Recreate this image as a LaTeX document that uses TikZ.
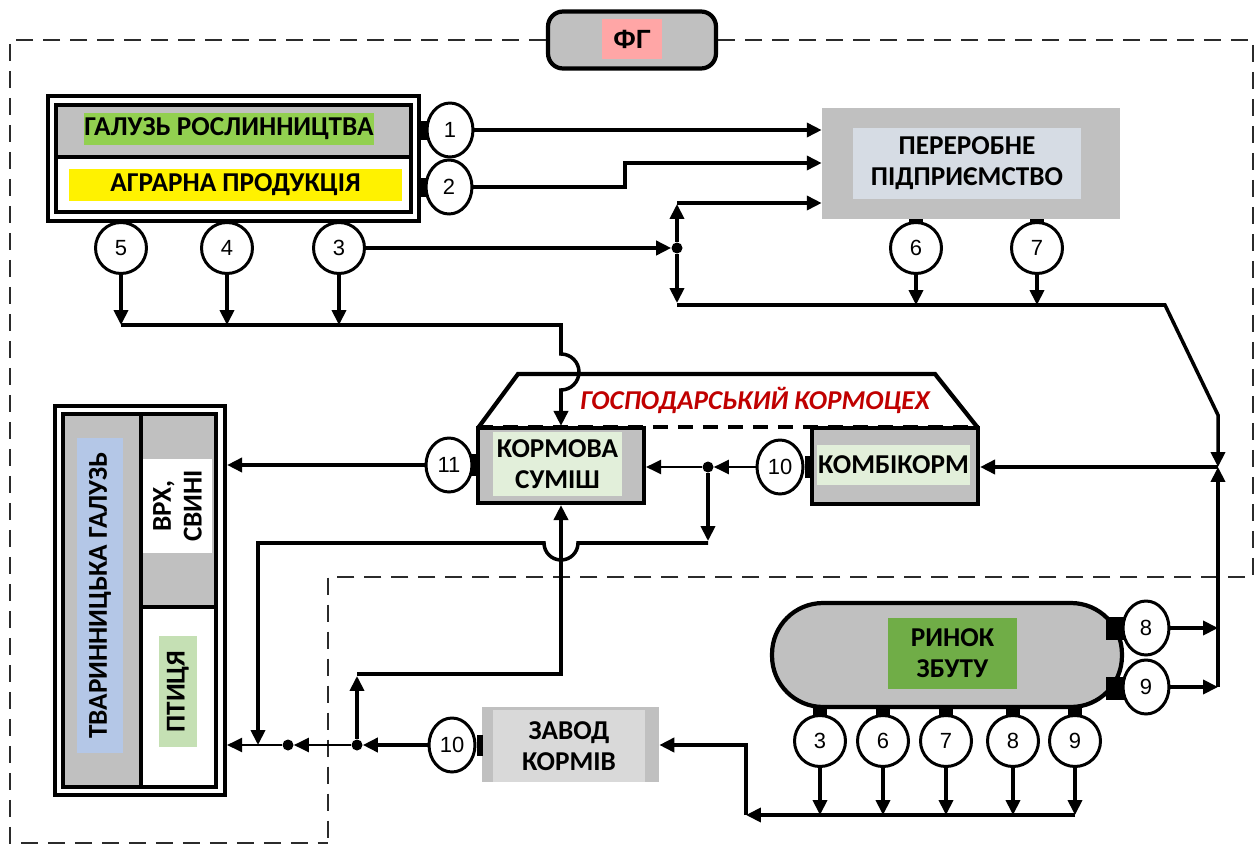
\documentclass[tikz,border=0pt]{standalone}
\usepackage{fontspec}
\setmainfont{Carlito}
\newfontfamily\numfont{Liberation Sans}
\usetikzlibrary{shapes.geometric, arrows.meta, positioning, calc}
\definecolor{boxgray}{HTML}{C0C0C0}
\definecolor{rosgreen}{HTML}{92D050}
\definecolor{fgpink}{HTML}{FFA6A6}
\definecolor{perblue}{HTML}{D6DCE4}
\definecolor{mixgreen}{HTML}{E2EFDA}
\definecolor{tvarblue}{HTML}{B4C7E7}
\definecolor{ptgreen}{HTML}{C5E0B4}
\definecolor{rinokgreen}{HTML}{70AD47}
\definecolor{zavgray}{HTML}{D9D9D9}
\definecolor{tsehred}{HTML}{C00000}
\definecolor{framegray}{HTML}{2B2B2B}

\tikzset{
  lbl/.style={inner sep=0pt, align=center, font=\bfseries\fontsize{15.5}{17.6}\selectfont},
  num/.style={circle, draw, line width=1.7pt, fill=white, inner sep=0pt, minimum size=1.02cm, font=\numfont\fontsize{12.5}{12.5}\selectfont},
  snum/.style={num, ellipse, minimum width=0.92cm, minimum height=1.08cm},
  link/.style={line width=2pt, -{Triangle[length=8.5pt,width=8pt]}},
  thinlink/.style={line width=1.2pt, -{Triangle[length=8.5pt,width=8pt]}},
  jdot/.style={circle, fill=black, inner sep=0pt, minimum size=0.22cm},
  fgline/.style={line width=1.5pt, framegray, dash pattern=on 0.34cm off 0.2cm},
  boxline/.style={line width=2.4pt}
}

\begin{document}
\begin{tikzpicture}[x=0.02cm, y=-0.02cm]
\useasboundingbox (0,0) rectangle (1255,845);

% ФГ frame
\node[draw, boxline, fill=boxgray, rounded corners=0.3cm, minimum width=3.36cm, minimum height=1.14cm] (fg) at (632,40) {};
\node[fill=fgpink, minimum width=1.22cm, minimum height=0.8cm, inner sep=0pt, font=\numfont\bfseries\fontsize{15}{15}\selectfont] (fglbl) at (632,39) {ФГ};
\draw[fgline] (fg.west) -- (10,40) -- (10,843) -- (328,843);
\draw[fgline] (fg.east) -- (1253,40) -- (1253,577) -- (328,577) -- (328,845);

% crop branch
\node[draw, boxline, minimum width=7.42cm, minimum height=2.5cm] (roslyn) at (233.5,158.5) {};
\draw[boxline, fill=boxgray] (56,105) rectangle (411,157);
\draw[boxline] (56,157) rectangle (411,212);
\node[lbl, fill=rosgreen, minimum width=5.76cm, minimum height=0.64cm] (roslynlbl) at (229,129) {ГАЛУЗЬ РОСЛИННИЦТВА};
\node[lbl, fill=yellow, minimum width=6.66cm, minimum height=0.64cm] (agrolbl) at (235.5,185) {АГРАРНА ПРОДУКЦІЯ};
\fill (419,121) rectangle (429,140);
\fill (419,178) rectangle (429,197);
\node[snum] (p1) at (450,130) {1};
\node[snum] (p2) at (449,187) {2};
\fill (113,220) rectangle (129,228);
\fill (219,220) rectangle (235,228);
\fill (331,220) rectangle (347,228);
\node[num] (p5) at (121,248) {5};
\node[num] (p4) at (227,248) {4};
\node[num] (p3) at (339,248) {3};

% processing plant
\node[fill=boxgray, minimum width=5.96cm, minimum height=2.22cm] (pererob) at (971,163.5) {};
\node[lbl, fill=perblue, minimum width=4.56cm, minimum height=1.42cm] (pereroblbl) at (967,163.5) {ПЕРЕРОБНЕ\\ПІДПРИЄМСТВО};
\fill (909,219) rectangle (923,226);
\fill (1030,219) rectangle (1044,226);
\node[num] (p6) at (916,248) {6};
\node[num] (p7) at (1037,248) {7};

\draw[link] (p1) -- (pererob.west |- p1);
\draw[link] (p2) -- (625,187) -- (625,163) -- (pererob.west |- 0,163);

\node[jdot] (j0) at (677,248) {};
\coordinate (j4) at (1218,467);
\draw[link] (p3) -- (j0);
\draw[link] (j0) -- (677,204);
\draw[link] (677,203) -- (pererob.west |- 0,203);
\draw[link] (j0) -- (677,303);
\draw[link] (p6) -- (p6 |- 0,305);
\draw[link] (p7) -- (p7 |- 0,305);
\draw[link] (677,305) -- (1165,305) -- (1218,415) -- (j4);

% feed shop
\draw[boxline, fill=white] (478,428) -- (518,374) -- (935,374) -- (978,428);
\draw[boxline, dash pattern=on 0.3cm off 0.2cm] (478,427) -- (978,427);
\node[font=\bfseries\itshape\fontsize{15.5}{18}\selectfont, text=tsehred] (tseh) at (755,400) {ГОСПОДАРСЬКИЙ КОРМОЦЕХ};

\node[draw, boxline, fill=boxgray, minimum width=3.32cm, minimum height=1.5cm] (kormsum) at (561,465.5) {};
\node[lbl, fill=mixgreen, minimum width=2.58cm, minimum height=1.28cm] (kormsumlbl) at (557.5,464) {КОРМОВА\\СУМІШ};
\node[draw, boxline, fill=boxgray, minimum width=3.32cm, minimum height=1.52cm] (kombi) at (895,466) {};
\node[lbl, fill=mixgreen, minimum width=3.06cm, minimum height=0.8cm] (kombilbl) at (893.5,465) {КОМБІКОРМ};
\fill (805,456) rectangle (812,478);
\node[snum] (p10a) at (780,467) {10};
\fill (471,454) rectangle (478,476);
\node[snum] (p11) at (449,465) {11};

% crop bus to feed mix
\draw[link] (p5) -- (p5 |- 0,325);
\draw[link] (p4) -- (p4 |- 0,325);
\draw[link] (p3) -- (p3 |- 0,325);
\draw[link] (p5 |- 0,325) -- (561,325) -- (561,354) arc[start angle=90, end angle=-90, radius=0.36cm] -- (kormsum.north);

% livestock branch
\node[draw, boxline, minimum width=3.4cm, minimum height=7.78cm] (tvar) at (140,600.5) {};
\draw[boxline, fill=boxgray] (63,414) rectangle (141,787);
\draw[boxline, fill=boxgray] (141,414) rectangle (216,607);
\draw[boxline, fill=white] (141,607) rectangle (216,787);
\node[lbl, fill=tvarblue, rotate=90, minimum width=6.3cm, minimum height=0.92cm] (tvarlbl) at (100,595.5) {ТВАРИННИЦЬКА ГАЛУЗЬ};
\node[lbl, fill=white, rotate=90, minimum width=1.88cm, minimum height=1.38cm] (vrx) at (177.5,506) {ВРХ,\\СВИНІ};
\node[lbl, fill=ptgreen, rotate=90, minimum width=2.22cm, minimum height=0.76cm] (ptlbl) at (178,691.5) {ПТИЦЯ};

\node[jdot] (j1) at (708,467) {};
\draw[thinlink] (p10a) -- (j1);
\draw[thinlink] (j1) -- (kormsum.east |- j1);
\draw[link] (j1) -- (708,541);
\draw[link] (p11) -- (tvar.east |- p11);

% feed plant
\node[fill=boxgray, minimum width=3.54cm, minimum height=1.5cm] (zavod) at (570.5,744.5) {};
\node[lbl, fill=zavgray, minimum width=3.04cm, minimum height=1.44cm] (zavodlbl) at (569,746) {ЗАВОД\\КОРМІВ};
\fill (477,735) rectangle (483,756);
\node[snum] (p10b) at (452,745) {10};

\node[jdot] (j2) at (357,745) {};
\node[jdot] (j3) at (288,745) {};
\coordinate (j5) at (258,745);
\draw[link] (708,543) -- (578,543) arc[start angle=0, end angle=-180, radius=0.34cm] -- (258,543) -- (j5);
\draw[link] (p10b) -- (j2);
\draw[link] (j2) -- (357,676);
\draw[link] (357,674) -- (561,674) -- (kormsum.south);
\draw[thinlink] (j2) -- (j3);
\draw[thinlink] (j3) -- (tvar.east |- j3);

% market
\node[draw, boxline, fill=boxgray, rounded corners=1.02cm, minimum width=7cm, minimum height=2.08cm] (rinok) at (947,655) {};
\node[lbl, fill=rinokgreen, minimum width=2.58cm, minimum height=1.42cm] (rinoklbl) at (952.5,653.5) {РИНОК\\ЗБУТУ};
\fill (1106,617) rectangle (1124,640);
\fill (1106,677) rectangle (1124,700);
\node[snum] (p8r) at (1146,628) {8};
\node[snum] (p9r) at (1146,687) {9};
\draw[link] (p8r) -- (p8r -| j4);
\draw[link] (p9r) -- (p9r -| j4);
\draw[link] (p9r -| j4) -- (j4);
\draw[link] (j4) -- (kombi.east |- j4);

\fill (813,705) rectangle (827,716);
\fill (876,705) rectangle (890,716);
\fill (939,705) rectangle (953,716);
\fill (1006,705) rectangle (1020,716);
\fill (1068,705) rectangle (1082,716);
\node[num] (q3) at (820,741) {3};
\node[num] (q6) at (883,741) {6};
\node[num] (q7) at (946,741) {7};
\node[num] (q8) at (1013,741) {8};
\node[num] (q9) at (1075,741) {9};
\draw[link] (q3) -- (q3 |- 0,815);
\draw[link] (q6) -- (q6 |- 0,815);
\draw[link] (q7) -- (q7 |- 0,815);
\draw[link] (q8) -- (q8 |- 0,815);
\draw[link] (q9) -- (q9 |- 0,815);
\draw[link] (q9 |- 0,815) -- (746,815);
\draw[link] (746,815) -- (746,745) -- (zavod.east |- 0,745);
\end{tikzpicture}
\end{document}
